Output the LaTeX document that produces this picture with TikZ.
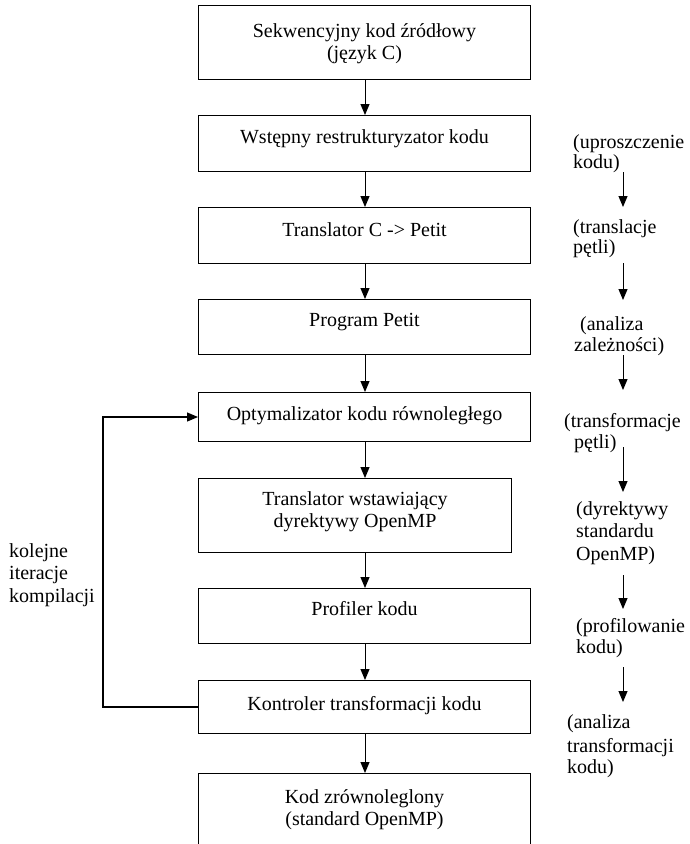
\documentclass[tikz,border=0pt]{standalone}
\usepackage{fontspec}
\setmainfont{Liberation Serif}
\usetikzlibrary{arrows.meta,calc}

\tikzset{
  stage/.style={draw=black, line width=1pt, rectangle, inner sep=0pt,
    anchor=north west, minimum height=#1},
  txt/.style={inner sep=0pt, align=center, anchor=north,
    font=\fontsize{20pt}{22pt}\selectfont},
  note/.style={inner sep=0pt, anchor=base west,
    font=\fontsize{20pt}{22pt}\selectfont},
  flow/.style={line width=1pt, -{Triangle[length=11pt,width=9pt]}},
  loopline/.style={line width=1.2pt, -{Triangle[length=11pt,width=9pt]}}
}

\begin{document}
\begin{tikzpicture}[x=1pt,y=-1pt]
\useasboundingbox (0,0) rectangle (690,844);
\clip (0,0) rectangle (690,844);

% main pipeline boxes
\node[stage=74pt, minimum width=332pt] (b1) at (198,5) {};
\node[stage=56pt, minimum width=332pt] (b2) at (198,115) {};
\node[stage=56pt, minimum width=332pt] (b3) at (198,207) {};
\node[stage=55pt, minimum width=332pt] (b4) at (198,299) {};
\node[stage=49pt, minimum width=332pt] (b5) at (198,392) {};
\node[stage=74pt, minimum width=313pt] (b6) at (198,478) {};
\node[stage=55pt, minimum width=332pt] (b7) at (198,588) {};
\node[stage=53pt, minimum width=332pt] (b8) at (198,680) {};
\node[stage=74pt, minimum width=332pt] (b9) at (198,773) {};

% box captions (strut sets the first baseline below the box top)
\node[txt] (t1) at (b1.north) {\rule{0pt}{32pt}Sekwencyjny kod źródłowy\\(język C)};
\node[txt] (t2) at (b2.north) {\rule{0pt}{28pt}Wstępny restrukturyzator kodu};
\node[txt] (t3) at (b3.north) {\rule{0pt}{29pt}Translator C -> Petit};
\node[txt] (t4) at (b4.north) {\rule{0pt}{27pt}Program Petit};
\node[txt] (t5) at (b5.north) {\rule{0pt}{28pt}Optymalizator kodu równoległego};
\node[txt] (t6) at (b6.north) {\rule{0pt}{27pt}Translator wstawiający\\dyrektywy OpenMP};
\node[txt] (t7) at (b7.north) {\rule{0pt}{27pt}Profiler kodu};
\node[txt] (t8) at (b8.north) {\rule{0pt}{30pt}Kontroler transformacji kodu};
\node[txt] (t9) at (b9.north) {\rule{0pt}{30pt}Kod zrównoleglony\\(standard OpenMP)};

% vertical flow arrows
\coordinate (ax) at (365,0);
\foreach \a/\b in {b1/b2,b2/b3,b3/b4,b4/b5,b5/b6,b6/b7,b7/b8,b8/b9}
  \draw[flow] (\a.south -| ax) -- (\b.north -| ax);

% feedback loop
\coordinate (fb) at (103,0);
\draw[loopline] (b8.west) -- (b8.west -| fb) -- (b5.west -| fb) -- (b5.west);
\node[note] (k1) at (9,557) {kolejne};
\node[note] (k2) at (9,579) {iteracje};
\node[note] (k3) at (9,602) {kompilacji};

% annotations on the right
\node[note] (r1a) at (573,148) {(uproszczenie};
\node[note] (r1b) at (573,168) {kodu)};
\node[note] (r2a) at (573,233) {(translacje};
\node[note] (r2b) at (573,253) {pętli)};
\node[note] (r3a) at (580,330) {(analiza};
\node[note] (r3b) at (574,351) {zależności)};
\node[note] (r4a) at (564,427) {(transformacje};
\node[note] (r4b) at (574,448) {pętli)};
\node[note] (r5a) at (576,515) {(dyrektywy};
\node[note] (r5b) at (576,537) {standardu};
\node[note] (r5c) at (576,560) {OpenMP)};
\node[note] (r6a) at (576,632) {(profilowanie};
\node[note] (r6b) at (576,653) {kodu)};
\node[note] (r7a) at (567,728) {(analiza};
\node[note] (r7b) at (567,752) {transformacji};
\node[note] (r7c) at (567,773) {kodu)};

% arrows between annotations
\coordinate (s1) at (623,172); \coordinate (e1) at (623,207);
\coordinate (s2) at (623,263); \coordinate (e2) at (623,300);
\coordinate (s3) at (623,355); \coordinate (e3) at (623,390);
\coordinate (s4) at (623,447); \coordinate (e4) at (623,492);
\coordinate (s5) at (623,575); \coordinate (e5) at (623,609);
\coordinate (s6) at (623,667); \coordinate (e6) at (623,702);
\foreach \i in {1,...,6}
  \draw[flow] (s\i) -- (e\i);
\end{tikzpicture}
\end{document}
